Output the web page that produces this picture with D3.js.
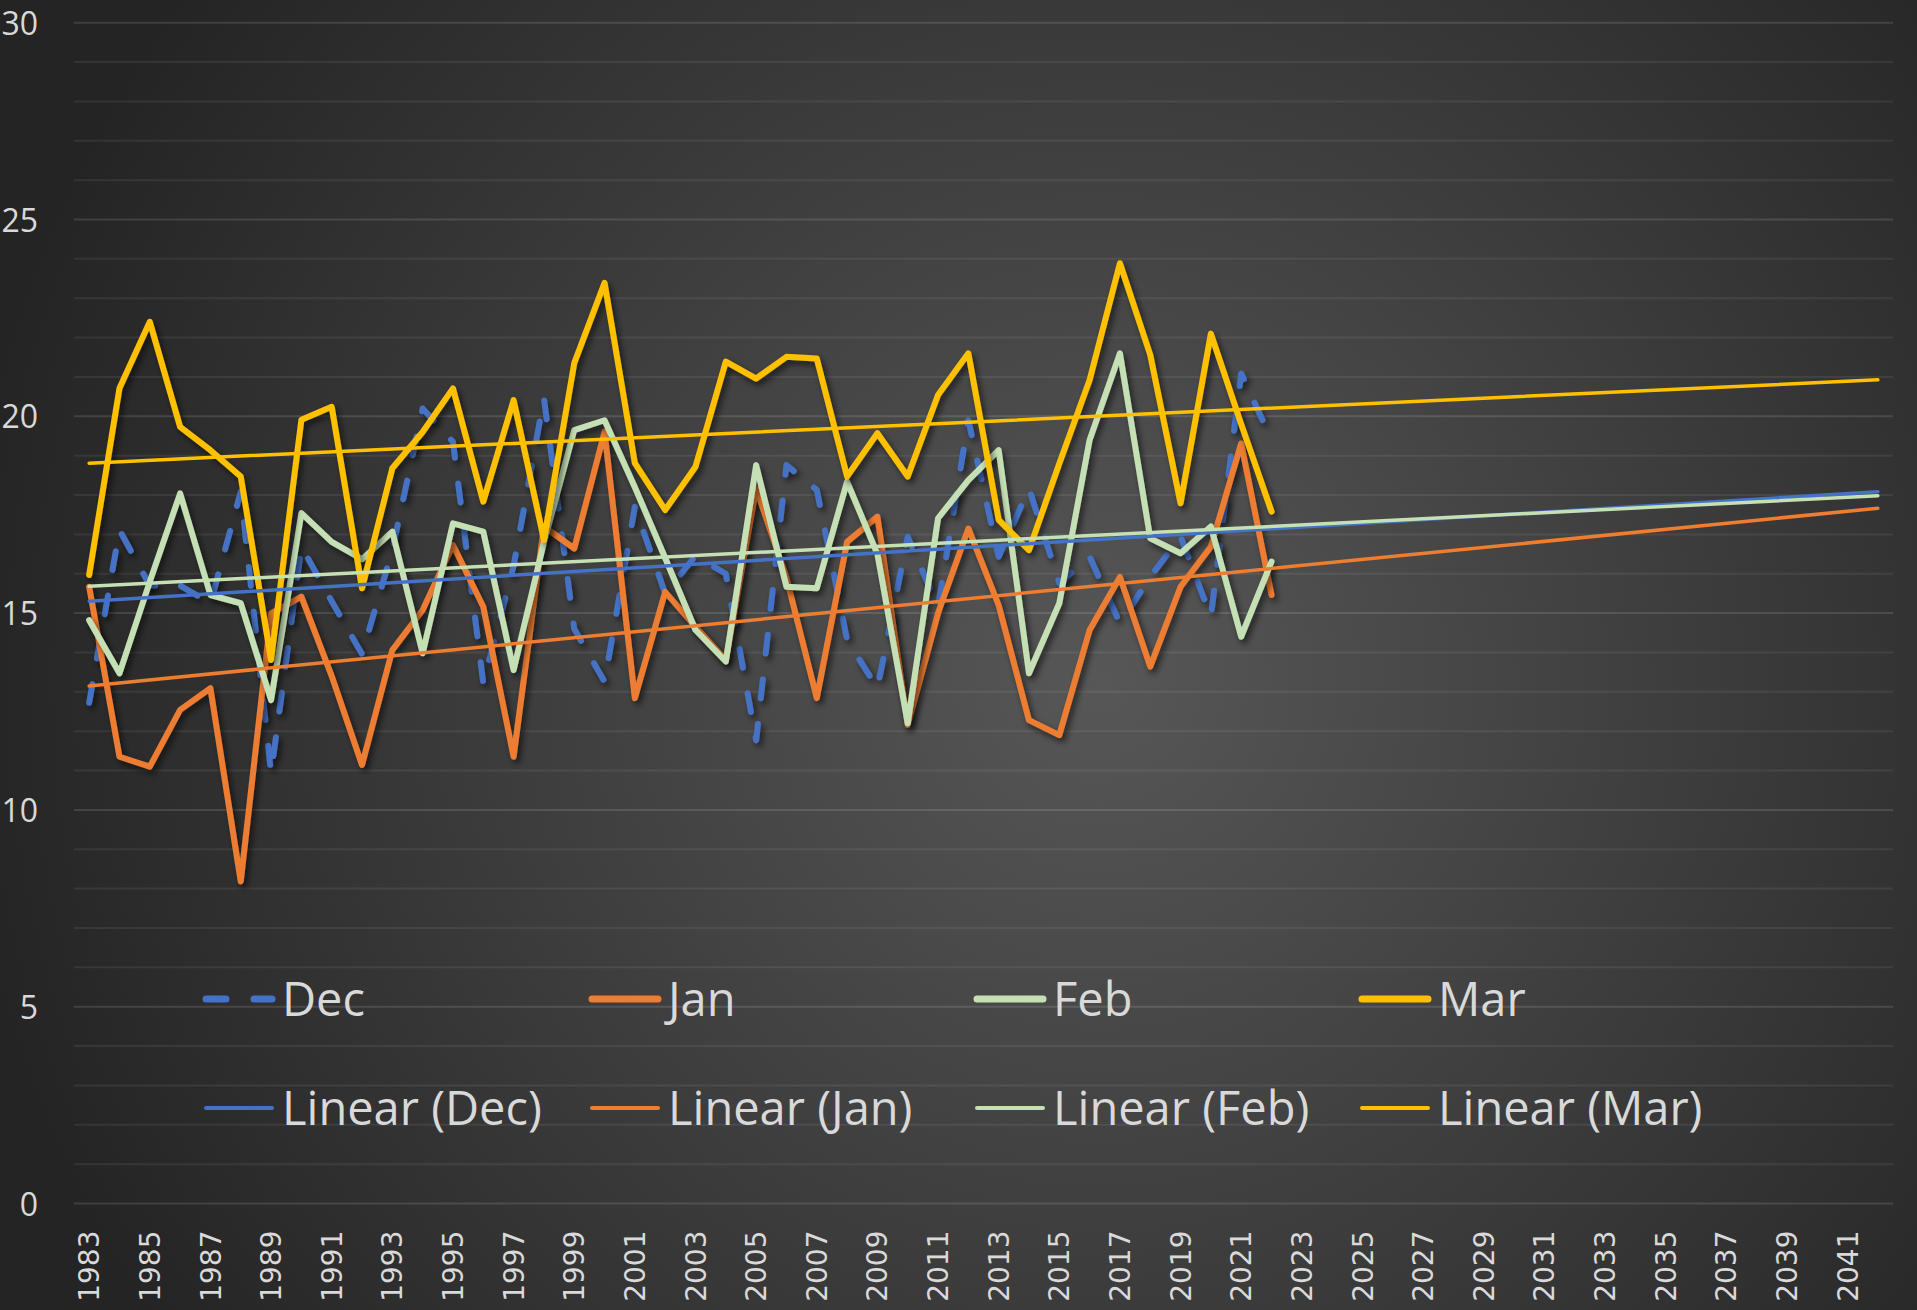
<!DOCTYPE html>
<html>
<head>
<meta charset="utf-8">
<script src="https://cdn.jsdelivr.net/npm/d3@7/dist/d3.min.js"></script>
<style>
    html, body { margin: 0; padding: 0; background: #2b2b2b; overflow: hidden; }
    svg { display: block; }
</style>
</head>
<body>
<div id="vis"></div>
<script>
// winter months, 1983-2022, with linear trend to 2042

var years = [1983, 1984, 1985, 1986, 1987, 1988, 1989, 1990, 1991, 1992,
    1993, 1994, 1995, 1996, 1997, 1998, 1999, 2000, 2001, 2002,
    2003, 2004, 2005, 2006, 2007, 2008, 2009, 2010, 2011, 2012,
    2013, 2014, 2015, 2016, 2017, 2018, 2019, 2020, 2021, 2022,
    2023, 2024, 2025, 2026, 2027, 2028, 2029, 2030, 2031, 2032,
    2033, 2034, 2035, 2036, 2037, 2038, 2039, 2040, 2041, 2042];

var dec = [12.72, 17.11, 15.7, 15.7, 15.25, 18.08, 10.93, 16.69, 15.3, 13.96,
    16.6, 20.2, 19.35, 13.22, 16.2, 20.46, 14.6, 13.26, 17.7, 15.5,
    16.45, 16.0, 11.77, 18.76, 18.13, 14.32, 13.09, 16.94, 15.16, 19.9,
    16.43, 18.17, 15.76, 16.43, 14.74, 15.92, 16.94, 14.91, 21.09, 19.4];

var jan = [15.67, 11.35, 11.1, 12.54, 13.09, 8.18, 14.99, 15.42, 13.4, 11.14,
    14.06, 15.08, 16.73, 15.16, 11.35, 17.2, 16.64, 19.61, 12.84, 15.54,
    14.65, 13.8, 18.17, 15.9, 12.84, 16.81, 17.45, 12.16, 15.0, 17.15,
    15.2, 12.28, 11.9, 14.57, 15.92, 13.64, 15.67, 16.69, 19.31, 15.46];

var feb = [14.82, 13.47, 15.8, 18.04, 15.46, 15.25, 12.79, 17.54, 16.81, 16.37,
    17.07, 13.98, 17.28, 17.07, 13.55, 16.8, 19.65, 19.9, 18.2, 16.4,
    14.57, 13.77, 18.76, 15.67, 15.63, 18.34, 16.5, 12.2, 17.41, 18.38,
    19.14, 13.47, 15.25, 19.4, 21.6, 16.9, 16.52, 17.2, 14.4, 16.31];

var mar = [15.97, 20.71, 22.4, 19.73, 19.14, 18.47, 13.81, 19.91, 20.24, 15.63,
    18.68, 19.6, 20.71, 17.83, 20.41, 16.86, 21.35, 23.39, 18.81, 17.62,
    18.72, 21.39, 20.96, 21.51, 21.47, 18.47, 19.57, 18.47, 20.54, 21.6,
    17.37, 16.6, 18.8, 20.92, 23.89, 21.56, 17.79, 22.1, 19.8, 17.58];

var seriesNames = ['Dec', 'Jan', 'Feb', 'Mar'];
var seriesColors = ['#4472c4', '#ed7d31', '#c5e0b4', '#ffc000'];
var yTicks = [0, 5, 10, 15, 20, 25, 30];
var xTickLabels = years.filter(function(d, i) { return i % 2 === 0; });

var W = 1917, H = 1310;
var plot = { left: 74, right: 1893, top: 22.7, bottom: 1203.5 };

var svg = d3.select('#vis')
    .append('svg')
    .attr('width', W)
    .attr('height', H);

var defs = svg.append('defs');

var bg = defs.append('radialGradient')
    .attr('id', 'bg')
    .attr('gradientUnits', 'userSpaceOnUse')
    .attr('cx', 1100).attr('cy', 680).attr('r', 1150);
bg.append('stop').attr('offset', '0%').attr('stop-color', '#575757');
bg.append('stop').attr('offset', '100%').attr('stop-color', '#242424');

var shadow = defs.append('filter')
    .attr('id', 'shadow')
    .attr('x', '-10%').attr('y', '-10%')
    .attr('width', '120%').attr('height', '120%');
shadow.append('feDropShadow')
    .attr('dx', 3).attr('dy', 4)
    .attr('stdDeviation', 3)
    .attr('flood-color', '#000')
    .attr('flood-opacity', 0.6);

svg.append('rect')
    .attr('width', W).attr('height', H)
    .attr('fill', 'url(#bg)');

var xScale = d3.scaleBand().domain(years).range([plot.left, plot.right]);
var yScale = d3.scaleLinear().domain([0, 30]).range([plot.bottom, plot.top]);
var xc = function(yr) { return xScale(yr) + xScale.bandwidth() / 2; };

// gridlines, minor every 1, major every 5
svg.append('g')
    .selectAll('line')
    .data(d3.range(0, 31))
    .enter().append('line')
    .attr('x1', plot.left).attr('x2', plot.right)
    .attr('y1', function(d) { return yScale(d); })
    .attr('y2', function(d) { return yScale(d); })
    .attr('stroke', function(d) { return d % 5 === 0 ? 'rgba(255,255,255,0.12)' : 'rgba(255,255,255,0.07)'; })
    .attr('stroke-width', 2);

// axes
var yAxis = d3.axisLeft(yScale).tickValues(yTicks).tickSize(0).tickPadding(36);
var gy = svg.append('g')
    .attr('transform', 'translate(' + plot.left + ',0)')
    .call(yAxis);
gy.select('.domain').remove();
gy.selectAll('text')
    .attr('dy', '0.36em')
    .style('font-family', '"Open Sans", sans-serif')
    .style('font-size', '32px')
    .attr('fill', '#d9d9d9');

var xAxis = d3.axisBottom(xScale).tickValues(xTickLabels).tickSize(0);
var gx = svg.append('g')
    .attr('transform', 'translate(0,' + plot.bottom + ')')
    .call(xAxis);
gx.select('.domain').remove();
gx.selectAll('text')
    .attr('transform', 'rotate(-90)')
    .attr('x', -27)
    .attr('y', 0)
    .attr('dy', '0.36em')
    .style('text-anchor', 'end')
    .style('font-family', '"DejaVu Sans", sans-serif')
    .style('font-size', '28px')
    .attr('fill', '#d9d9d9');

// series lines
var allSeries = [dec, jan, feb, mar];

var line = d3.line()
    .x(function(d, i) { return xc(years[i]); })
    .y(function(d) { return yScale(d); });

var gs = svg.append('g');
allSeries.forEach(function(vals, k) {
    gs.append('path')
        .datum(vals)
        .attr('d', line)
        .attr('fill', 'none')
        .attr('stroke', seriesColors[k])
        .attr('stroke-width', 6)
        .attr('stroke-linejoin', 'round')
        .attr('stroke-linecap', 'round')
        .attr('stroke-dasharray', k === 0 ? '19 26' : null)
        .attr('filter', 'url(#shadow)');
});

// least squares trend, forecast to the last category
var linFit = function(vals) {
    var mx = d3.mean(vals, function(d, i) { return i; });
    var my = d3.mean(vals);
    var sxy = 0, sxx = 0;
    vals.forEach(function(v, i) {
        sxy += (i - mx) * (v - my);
        sxx += (i - mx) * (i - mx);
    });
    var b = sxy / sxx;
    return { a: my - b * mx, b: b };
};

var gt = svg.append('g');
allSeries.forEach(function(vals, k) {
    var fit = linFit(vals);
    var last = years.length - 1;
    gt.append('line')
        .attr('x1', xc(years[0]))
        .attr('y1', yScale(fit.a))
        .attr('x2', xc(years[last]))
        .attr('y2', yScale(fit.a + fit.b * last))
        .attr('stroke', seriesColors[k])
        .attr('stroke-width', 3.5)
        .attr('stroke-linecap', 'round');
});

// legend
var legendCols = [203, 589, 974, 1359];
var legendRows = [999, 1108];
var lg = svg.append('g');

seriesNames.forEach(function(name, k) {
    [0, 1].forEach(function(r) {
        var x0 = legendCols[k], y0 = legendRows[r];
        lg.append('line')
            .attr('x1', x0 + 3).attr('x2', x0 + 69)
            .attr('y1', y0).attr('y2', y0)
            .attr('stroke', seriesColors[k])
            .attr('stroke-width', r === 0 ? 7 : 4)
            .attr('stroke-linecap', 'round')
            .attr('stroke-dasharray', (r === 0 && k === 0) ? '20 28' : null);
        lg.append('text')
            .attr('x', x0 + 79)
            .attr('y', y0)
            .attr('dy', '0.36em')
            .style('font-family', '"Open Sans", sans-serif')
            .style('font-size', '47px')
            .attr('fill', '#d9d9d9')
            .text(r === 0 ? name : 'Linear (' + name + ')');
    });
});
</script>
</body>
</html>
